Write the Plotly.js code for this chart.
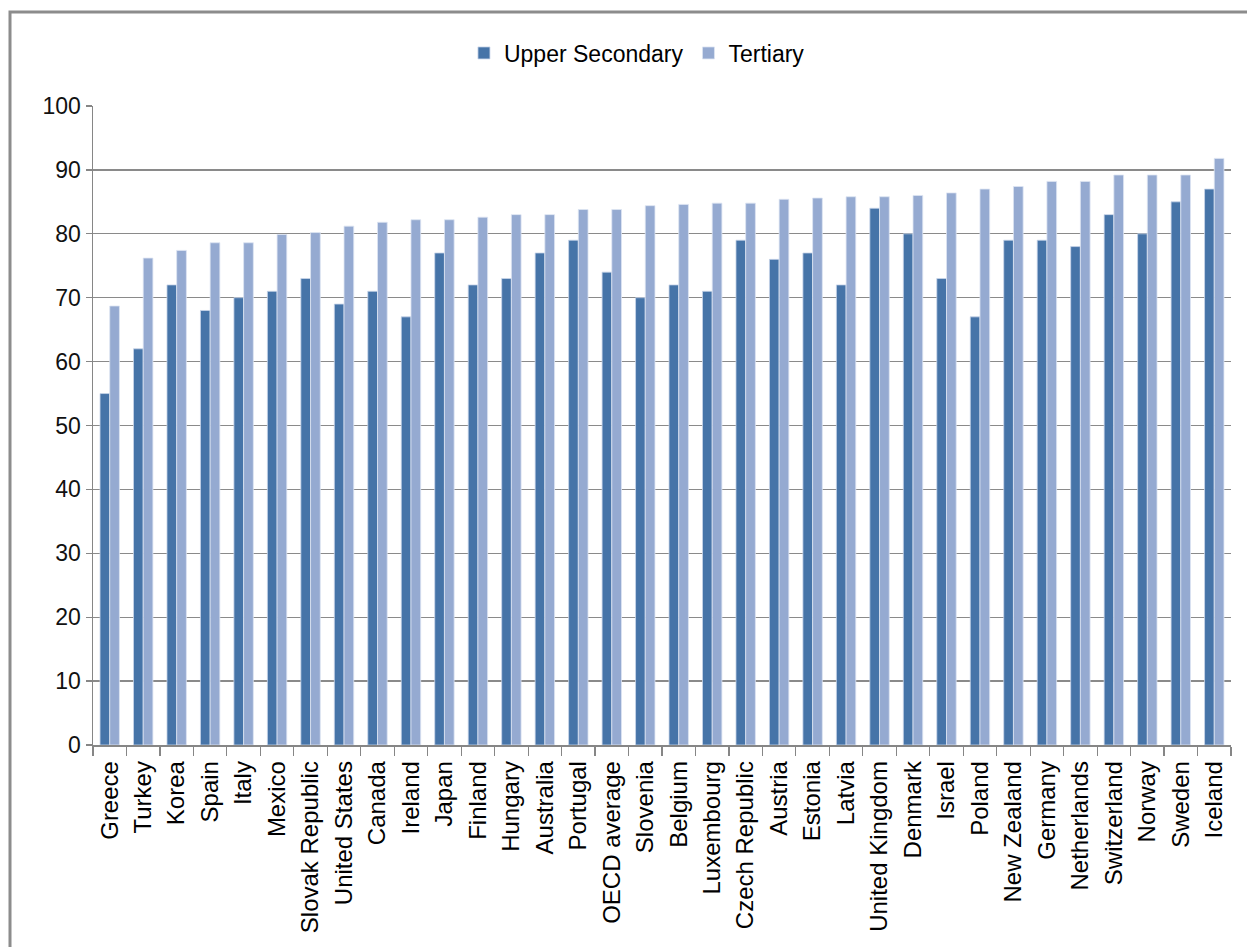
<!DOCTYPE html>
<html>
<head>
<meta charset="utf-8">
<script src="https://cdn.plot.ly/plotly-3.0.1.min.js"></script>
<style>
  html, body { margin: 0; padding: 0; background: #ffffff; }
  #chart { width: 1247px; height: 947px; }
</style>
</head>
<body>
<div id="chart"></div>
<script>
const countries = ["Greece", "Turkey", "Korea", "Spain", "Italy", "Mexico", "Slovak Republic", "United States",
  "Canada", "Ireland", "Japan", "Finland", "Hungary", "Australia", "Portugal", "OECD average", "Slovenia",
  "Belgium", "Luxembourg", "Czech Republic", "Austria", "Estonia", "Latvia", "United Kingdom", "Denmark",
  "Israel", "Poland", "New Zealand", "Germany", "Netherlands", "Switzerland", "Norway", "Sweden", "Iceland"];

const upperSecondary = [55, 62, 72, 68, 70, 71, 73, 69, 71, 67, 77, 72, 73, 77, 79, 74, 70,
  72, 71, 79, 76, 77, 72, 84, 80, 73, 67, 79, 79, 78, 83, 80, 85, 87];

const tertiary = [68.7, 76.2, 77.4, 78.6, 78.6, 79.9, 80.2, 81.2, 81.8, 82.2, 82.2, 82.6, 83.0, 83.0, 83.8, 83.8, 84.4,
  84.6, 84.8, 84.8, 85.4, 85.6, 85.8, 85.8, 86.0, 86.4, 87.0, 87.4, 88.2, 88.2, 89.2, 89.2, 89.2, 91.8];

const yTicks = [0, 10, 20, 30, 40, 50, 60, 70, 80, 90, 100];

const FONT = "'Liberation Sans', Arial, sans-serif";
const W = 1247, H = 947;
const M = { l: 93, r: 16, t: 106, b: 202 };
const pw = W - M.l - M.r, ph = H - M.t - M.b;
function px2paperX(x) { return (x - M.l) / pw; }
function px2paperY(y) { return (H - M.b - y) / ph; }

const traces = [
  {
    type: "bar", name: "Upper Secondary", x: countries, y: upperSecondary,
    marker: { color: "#4674A8", line: { color: "#c9d6ea", width: 0.8 } },
    hoverinfo: "x+y+name"
  },
  {
    type: "bar", name: "Tertiary", x: countries, y: tertiary,
    marker: { color: "#95AAD1", line: { color: "#dde5f2", width: 0.8 } },
    hoverinfo: "x+y+name"
  }
];

const layout = {
  width: W, height: H,
  margin: M,
  paper_bgcolor: "#ffffff", plot_bgcolor: "#ffffff",
  font: { family: FONT, color: "#000000" },
  barmode: "group", bargap: 0.42, bargroupgap: 0,
  showlegend: true,
  legend: {
    orientation: "h", x: 0.478, xanchor: "center", y: px2paperY(53), yanchor: "middle",
    font: { family: FONT, size: 23, color: "#000000" },
    itemwidth: 30, traceorder: "normal", bgcolor: "rgba(0,0,0,0)"
  },
  xaxis: {
    type: "category", tickangle: -90,
    tickfont: { family: FONT, size: 24, color: "#000000" },
    showline: true, linecolor: "#868686", linewidth: 1.5,
    ticks: "outside", tickson: "boundaries", ticklen: 9, tickcolor: "#868686", tickwidth: 1.2,
    ticklabelstandoff: 5,
    showgrid: false, automargin: false, fixedrange: true
  },
  yaxis: {
    range: [0, 100], tickvals: yTicks, ticktext: yTicks.map(String),
    tickfont: { family: FONT, size: 23, color: "#111111" },
    showline: true, linecolor: "#868686", linewidth: 1.5,
    ticks: "outside", ticklen: 6, tickcolor: "#868686", tickwidth: 1.2,
    showgrid: true, gridcolor: "#8a8a8a", gridwidth: 1.3,
    zeroline: false, automargin: false, fixedrange: true
  },
  shapes: [
    {
      type: "path", xref: "paper", yref: "paper",
      path: "M " + px2paperX(10) + "," + px2paperY(H + 5) + " L " + px2paperX(10) + "," + px2paperY(12) +
            " L " + px2paperX(W + 5) + "," + px2paperY(12),
      line: { color: "#8c8c8c", width: 3 }
    }
  ]
};

Plotly.newPlot("chart", traces, layout, { displayModeBar: false, staticPlot: true });
</script>
</body>
</html>
